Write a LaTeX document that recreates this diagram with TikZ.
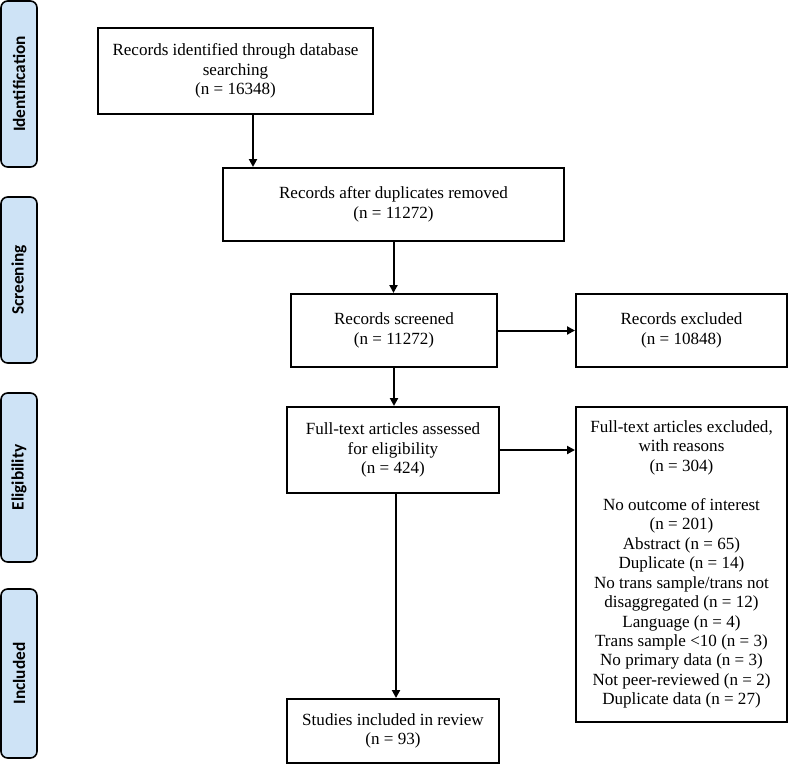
\documentclass[tikz,border=0pt]{standalone}
\usepackage{fontspec}
\setmainfont{Liberation Serif}
\newfontfamily\phasefont{Carlito}
\usetikzlibrary{arrows.meta}
\definecolor{phasefill}{RGB}{206,227,246}
\newlength{\du}
\setlength{\du}{0.75pt}
\tikzset{
  box/.style={draw, line width=1.5pt, rectangle, align=center,
    font=\fontsize{12.8}{14.6}\selectfont, inner sep=2pt},
  phase/.style={draw, line width=1.2pt, rounded corners=5pt, fill=phasefill,
    rotate=90, font=\phasefont\bfseries\fontsize{13}{15}\selectfont,
    minimum height=36\du, inner sep=0pt},
  arr/.style={line width=1.5pt, -{Triangle[length=6pt,width=6pt]}}
}

\begin{document}
\begin{tikzpicture}
\pgftransformyscale{-1.000000}
\useasboundingbox (0\du,0\du) rectangle (788\du,765\du);
% phases
\node[phase, minimum width=166\du] (pident) at (19\du,84\du) {Identification};
\node[phase, minimum width=166\du] (pscreen) at (19\du,280\du) {Screening};
\node[phase, minimum width=169\du] (pelig) at (19\du,477.5\du) {Eligibility};
\node[phase, minimum width=169\du] (pincl) at (19\du,673.5\du) {Included};
% flow boxes
\node[box, minimum width=275\du, minimum height=86\du] (ident) at (235.5\du,71\du)
  {Records identified through database\\searching\\(n = 16348)};
\node[box, minimum width=341\du, minimum height=73\du] (dupl) at (393.5\du,204.5\du)
  {Records after duplicates removed\\(n = 11272)};
\node[box, minimum width=206\du, minimum height=73\du] (screen) at (394\du,330.5\du)
  {Records screened\\(n = 11272)};
\node[box, minimum width=211\du, minimum height=73\du] (excl) at (681.5\du,330.5\du)
  {Records excluded\\(n = 10848)};
\node[box, minimum width=212\du, minimum height=86\du] (full) at (393\du,450\du)
  {Full-text articles assessed\\for eligibility\\(n = 424)};
\node[box, minimum width=211\du, minimum height=315\du] (reasons) at (681.5\du,564.5\du)
  {Full-text articles excluded,\\with reasons\\(n = 304)\\[14.6pt]
   No outcome of interest\\(n = 201)\\Abstract (n = 65)\\Duplicate (n = 14)\\
   No trans sample/trans not\\disaggregated (n = 12)\\Language (n = 4)\\
   Trans sample <10 (n = 3)\\No primary data (n = 3)\\Not peer-reviewed (n = 2)\\
   Duplicate data (n = 27)};
\node[box, minimum width=212\du, minimum height=64\du] (incl) at (393\du,731\du)
  {Studies included in review\\(n = 93)};
% arrows
\draw[arr] ([xshift=17.5\du]ident.south) -- ([xshift=17.5\du]ident.south |- dupl.north);
\draw[arr] (dupl.south) -- (dupl.south |- screen.north);
\draw[arr] (screen.east) -- (excl.west);
\draw[arr] (screen.south) -- (screen.south |- full.north);
\draw[arr] (full.east) -- (full.east -| reasons.west);
\draw[arr] ([xshift=3\du]full.south) -- ([xshift=3\du]full.south |- incl.north);
\end{tikzpicture}
\end{document}
